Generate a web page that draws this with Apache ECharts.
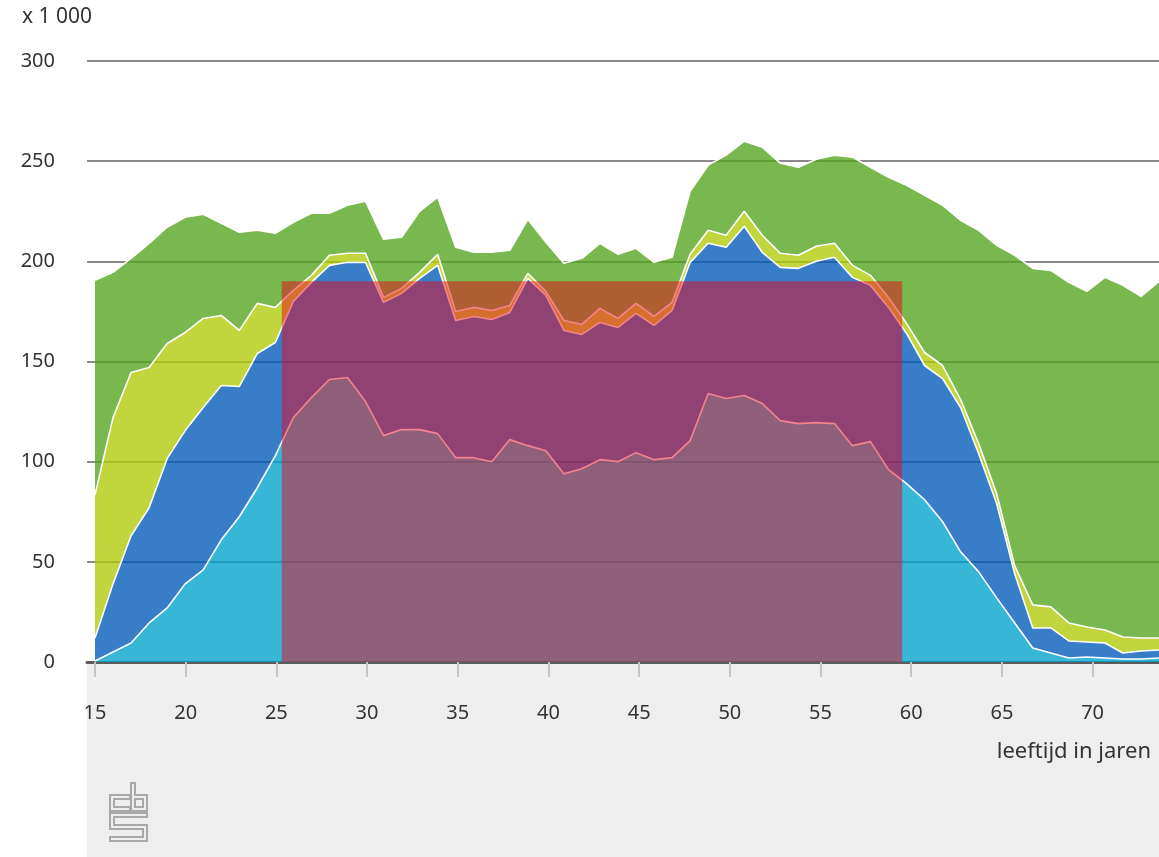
<!DOCTYPE html>
<html>
<head>
<meta charset="utf-8">
<script src="https://cdn.jsdelivr.net/npm/echarts@6/dist/echarts.min.js"></script>
<style>
html,body{margin:0;padding:0;background:#fff;}
#chart{width:1159px;height:857px;}
</style>
</head>
<body>
<div id="chart"></div>
<script>
// Leeftijd (jaren)
const ages = [15,16,17,18,19,20,21,22,23,24,25,26,27,28,29,30,31,32,33,34,35,36,37,38,39,40,41,42,43,44,45,46,47,48,49,50,51,52,53,54,55,56,57,58,59,60,61,62,63,64,65,66,67,68,69,70,71,72,73,74];
// x 1 000 personen, gestapeld van onder naar boven
const laag1 = [0.5,5,9.5,19.5,27,39,46,61,72.5,87,103,122,132,141,142,130,113,116,116,114,102,102,100,111,108,105.5,94,96.5,101,100,104.5,101,102,110.5,134,131.5,133,129,120.5,119,119.5,119,108,110,96,89,81,70,55,45,32,19.5,7,4.5,2,2.5,2,1.5,1.5,2];
const laag2 = [11.5,34,53.5,57.5,74.5,76.5,81,77,65,67,56.5,58,57.5,57,57.5,69.5,66.5,68,75.5,84,68.5,70.5,71,63.5,83.5,77.5,71.5,67,68.5,67,69.5,67,73.5,89,75,75.5,84.5,75.5,76.5,77.5,80.5,83,84,78,81,75,67,71.5,72,59,47,24.5,10,12.5,8.5,7.5,7.5,3,4,4];
const laag3 = [71.5,83,81.5,70,57.5,49,44.5,35,28,25,17.5,5.5,3.5,5,4.5,4.5,2.5,2.5,3,5.5,4.5,4.5,4.5,3.5,2.5,2,5,5,7,4.5,5,4.5,4,4,6.5,6,7.5,8.5,7,6.5,7.5,7,6,5,5,5,6.5,6.5,4,5,5,4,11.5,10.5,9,7.5,6.5,8,6.5,6];
const laag4 = [107,72.5,57,62,58,57.5,52,46,49,36.5,37,34,31,21,24,26,29,25.5,30.5,28.5,32,27.5,29,27.5,27,24.5,28.5,33,32.5,32,27.5,27,22.5,31.5,32.5,40,35,44,45,44,43.5,44,54,54,60,69,78.5,80,89.5,106.5,124,155,168,168,170,167.5,176,175.5,170.5,178];
// Gemarkeerd gebied: [leeftijd van, waarde van, leeftijd tot, waarde tot]
const markeerVlak = [[25.3, 0, 59.5, 190]];
const xTicks = [15,20,25,30,35,40,45,50,55,60,65,70];

const colors = ['#00a1cd','#0058b8','#afcb05','#53a31d'];
const layers = [laag1, laag2, laag3, laag4];
const FONT = '"Noto Sans", sans-serif';

const chart = echarts.init(document.getElementById('chart'), null, {renderer:'canvas'});

const series = layers.map((arr, i) => ({
  type: 'line',
  name: 'laag' + (i+1),
  xAxisIndex: 1,
  yAxisIndex: 1,
  stack: 'totaal',
  z: 6 - i,
  showSymbol: false,
  symbol: 'none',
  smooth: false,
  data: arr,
  lineStyle: { color: '#ffffff', width: 1.6 },
  areaStyle: { color: colors[i], opacity: 0.78 },
  emphasis: { disabled: true }
}));

series.push({
  type: 'custom',
  name: 'markering',
  xAxisIndex: 0,
  yAxisIndex: 0,
  z: 20,
  data: markeerVlak,
  encode: { x: [0, 2], y: [1, 3] },
  renderItem: function (params, api) {
    const p0 = api.coord([api.value(0), api.value(1)]);
    const p1 = api.coord([api.value(2), api.value(3)]);
    return {
      type: 'rect',
      shape: { x: p0[0], y: p1[1], width: p1[0] - p0[0], height: p0[1] - p1[1] },
      style: { fill: 'rgba(232,8,28,0.5)' }
    };
  }
});

const logoStroke = (pts, w, c) => ({
  type: 'polyline', z: -1,
  shape: { points: pts },
  style: { stroke: c, lineWidth: w, fill: null, lineJoin: 'miter', lineCap: 'square' }
});
const logoPaths = [
  [[128,797],[112,797],[112,809],[128,809]],
  [[133,785],[133,809],[145,809],[145,797],[133,797]],
  [[145,815],[112,815],[112,827],[145,827],[145,839],[112,839]]
];
const logo = [];
logoPaths.forEach(p => logo.push(logoStroke(p, 6, '#a8a8a8')));
logoPaths.forEach(p => logo.push(logoStroke(p, 2, '#eeeeee')));

chart.setOption({
  animation: false,
  backgroundColor: '#ffffff',
  grid: [
    { left: 87, right: 0, top: 61, bottom: 195, containLabel: false },
    { left: 95, right: -6.3, top: 61, bottom: 195, containLabel: false }
  ],
  xAxis: [
    {
      type: 'value',
      gridIndex: 0,
      min: 14.56,
      max: 73.66,
      axisLine: { show: true, lineStyle: { color: '#5c5c5c', width: 3 } },
      axisTick: { show: true, customValues: xTicks, length: 15, lineStyle: { color: '#c4c4c4', width: 2 } },
      axisLabel: { customValues: xTicks, margin: 41, color: '#333', fontSize: 20, fontFamily: FONT },
      splitLine: { show: false }
    },
    {
      type: 'category',
      gridIndex: 1,
      data: ages,
      boundaryGap: false,
      show: false
    }
  ],
  yAxis: [
    {
      type: 'value',
      gridIndex: 0,
      min: 0, max: 300, interval: 50,
      axisLine: { show: false },
      axisTick: { show: false },
      axisLabel: { margin: 32, color: '#333', fontSize: 20, fontFamily: FONT },
      splitLine: { show: true, lineStyle: { color: '#8a8a8a', width: 2 } }
    },
    {
      type: 'value',
      gridIndex: 1,
      min: 0, max: 300, interval: 50,
      show: false,
      splitLine: { show: false }
    }
  ],
  graphic: [
    { type: 'rect', z: -2, silent: true, shape: { x: 87, y: 664, width: 1072, height: 193 }, style: { fill: '#eeeeee' } },
    { type: 'text', z: 5, left: 22, top: 7, style: { text: 'x 1 000', fill: '#333', font: '21px ' + FONT } },
    { type: 'text', z: 5, x: 1151, y: 752, style: { text: 'leeftijd in jaren', fill: '#333', font: '22px ' + FONT, textAlign: 'right', textVerticalAlign: 'middle' } }
  ].concat(logo),
  series: series
});
</script>
</body>
</html>
